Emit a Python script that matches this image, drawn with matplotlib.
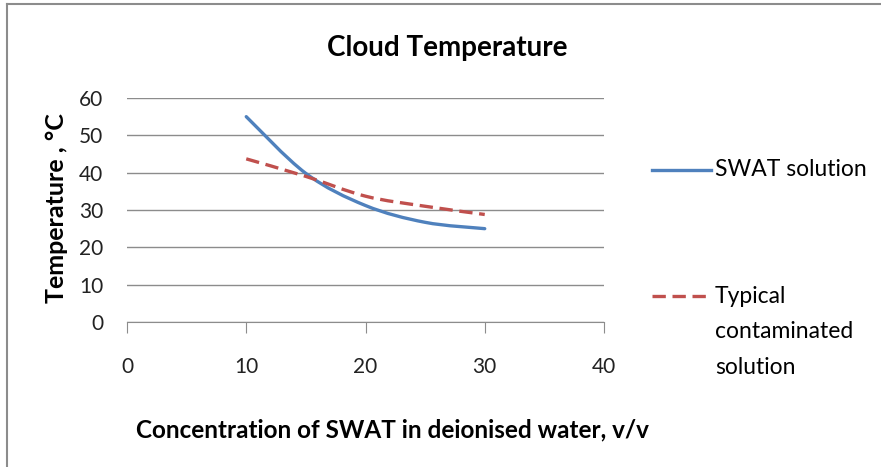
import matplotlib
matplotlib.use('Agg')
import matplotlib.pyplot as plt
import numpy as np
from matplotlib.path import Path
from matplotlib.patches import PathPatch
from matplotlib.lines import Line2D

# data
conc = [10, 15, 20, 25, 30]
swat = [55.0, 39.8, 31.2, 26.7, 25.0]
typical = [43.7, 39.0, 33.7, 31.0, 28.8]

x_ticks = [0, 10, 20, 30, 40]
y_ticks = [0, 10, 20, 30, 40, 50, 60]

plt.rcParams['font.family'] = ['Lato', 'DejaVu Sans']


def smooth_path(xs, ys):
    # excel style smoothed line: bezier through the points
    p = np.column_stack([xs, ys]).astype(float)
    pp = np.vstack([p[0], p, p[-1]])
    verts = [p[0]]
    codes = [Path.MOVETO]
    for i in range(1, len(pp) - 2):
        c1 = pp[i] + (pp[i + 1] - pp[i - 1]) / 6
        c2 = pp[i + 1] - (pp[i + 2] - pp[i]) / 6
        verts += [c1, c2, pp[i + 1]]
        codes += [Path.CURVE4] * 3
    return Path(verts, codes)


fig = plt.figure(figsize=(8.81, 4.67), dpi=100)
ax = fig.add_axes([127/881, 1-322/467, 477/881, 224/467])

blue = '#4F81BD'
red = '#C0504D'

ax.add_patch(PathPatch(smooth_path(conc, swat), fill=False, edgecolor=blue,
                       lw=2.4, capstyle='round', zorder=3))
ax.add_patch(PathPatch(smooth_path(conc, typical), fill=False, edgecolor=red,
                       lw=2.4, linestyle=(0, (4, 2)), zorder=3))

ax.set_xlim(0, 40)
ax.set_ylim(0, 60)
ax.set_xticks(x_ticks)
ax.set_yticks(y_ticks)
ax.yaxis.grid(True, color='#8c8c8c', lw=1)
ax.set_axisbelow(True)
for s in ['top', 'right', 'left']:
    ax.spines[s].set_visible(False)
ax.spines['bottom'].set_color('#8c8c8c')
ax.tick_params(axis='x', length=8, color='#8c8c8c', pad=17, labelsize=15,
               labelcolor='#222222')
ax.tick_params(axis='y', length=0, pad=17, labelsize=15, labelcolor='#222222')

fig.text(447/881, 1-48/467, 'Cloud Temperature', ha='center', va='center',
         fontsize=20, fontweight='bold')
fig.text(392/881, 1-430/467, 'Concentration of SWAT in deionised water, v/v',
         ha='center', va='center', fontsize=17.5, fontweight='bold')
fig.text(57/881, 1-208/467, 'Temperature , \u00b0C', rotation=90,
         ha='center', va='center', fontsize=18, fontweight='bold')

# legend drawn by hand
fig.add_artist(Line2D([652/881, 711/881], [1-170/467]*2, color=blue, lw=2.4))
fig.text(715/881, 1-170/467, 'SWAT solution', va='center', fontsize=16.5)
fig.add_artist(Line2D([652/881, 711/881], [1-296/467]*2, color=red, lw=2.4,
                      linestyle=(0, (4, 2))))
fig.text(715/881, 1-332/467, 'Typical\ncontaminated\nsolution', va='center',
         fontsize=16.5, linespacing=1.85)

# outer frame (top and left only)
fig.add_artist(Line2D([7/881, 1], [1-3.5/467]*2, color='#8c8c8c', lw=1.5))
fig.add_artist(Line2D([7/881]*2, [0, 1-3.5/467], color='#8c8c8c', lw=1.5))

fig.savefig('out.png', dpi=100)
